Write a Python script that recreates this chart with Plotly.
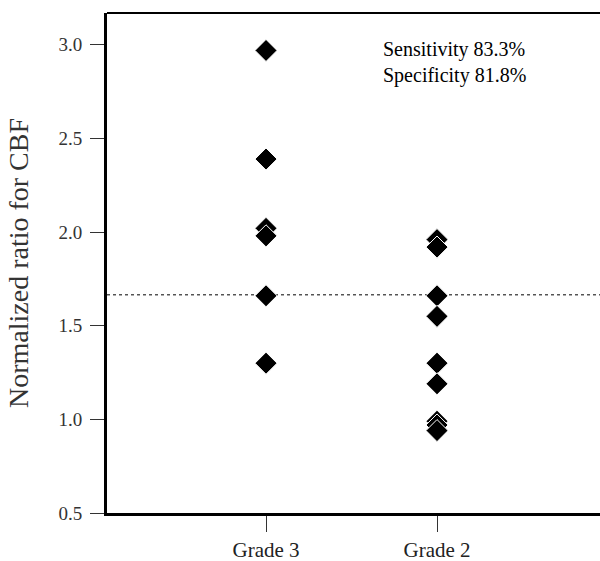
import plotly.graph_objects as go

categories = ["Grade 3", "Grade 2"]
cat_pos = [1, 2]
grade3_values = [2.97, 2.39, 2.02, 1.98, 1.66, 1.30]
grade2_values = [1.96, 1.92, 1.66, 1.55, 1.30, 1.19, 0.99, 0.97, 0.94]
cutoff = 1.665
y_ticks = [0.5, 1.0, 1.5, 2.0, 2.5, 3.0]
y_tick_labels = ["0.5", "1.0", "1.5", "2.0", "2.5", "3.0"]

font_family = "Liberation Serif, Times New Roman, serif"

fig = go.Figure()

marker = dict(symbol="diamond", size=17, color="black",
              line=dict(color="white", width=1))

fig.add_trace(go.Scatter(x=[cat_pos[0]] * len(grade3_values), y=grade3_values,
                         mode="markers", marker=marker, showlegend=False))
fig.add_trace(go.Scatter(x=[cat_pos[1]] * len(grade2_values), y=grade2_values,
                         mode="markers", marker=marker, showlegend=False))

fig.add_shape(type="line", xref="paper", yref="y", x0=0, x1=1, y0=cutoff, y1=cutoff,
              line=dict(color="black", width=1, dash="dot"), layer="below")

fig.add_annotation(xref="paper", yref="paper", x=0.555, y=0.955,
                   xanchor="left", yanchor="top", align="left", showarrow=False,
                   text="Sensitivity 83.3%<br>Specificity 81.8%",
                   font=dict(family=font_family, size=20, color="black"))

fig.update_layout(
    width=600, height=561,
    margin=dict(l=107, r=0, t=13, b=48),
    plot_bgcolor="white", paper_bgcolor="white",
    font=dict(family=font_family, color="#222"),
    xaxis=dict(range=[0.07, 2.953], tickvals=cat_pos, ticktext=categories,
               showgrid=False, zeroline=False, showline=True, linecolor="black",
               linewidth=3, mirror=False, ticks="outside", ticklen=16, tickwidth=1,
               tickcolor="#333", tickfont=dict(size=21, family=font_family, color="#222")),
    yaxis=dict(range=[0.5, 3.17], tickvals=y_ticks, ticktext=y_tick_labels,
               showgrid=False, zeroline=False, showline=True, linecolor="black",
               linewidth=3, ticks="outside", ticklen=14, tickwidth=1, tickcolor="#333",
               ticklabelstandoff=4,
               tickfont=dict(size=19, family=font_family, color="#333"),
               title=dict(text="Normalized ratio for CBF", standoff=22,
                          font=dict(size=28, family=font_family, color="#333"))),
)

fig.add_shape(type="line", xref="paper", yref="paper", x0=0, x1=1, y0=1, y1=1,
              line=dict(color="black", width=2))

fig.write_html("out.html", config={"displayModeBar": False},
               post_script="document.body.style.margin='0';")
